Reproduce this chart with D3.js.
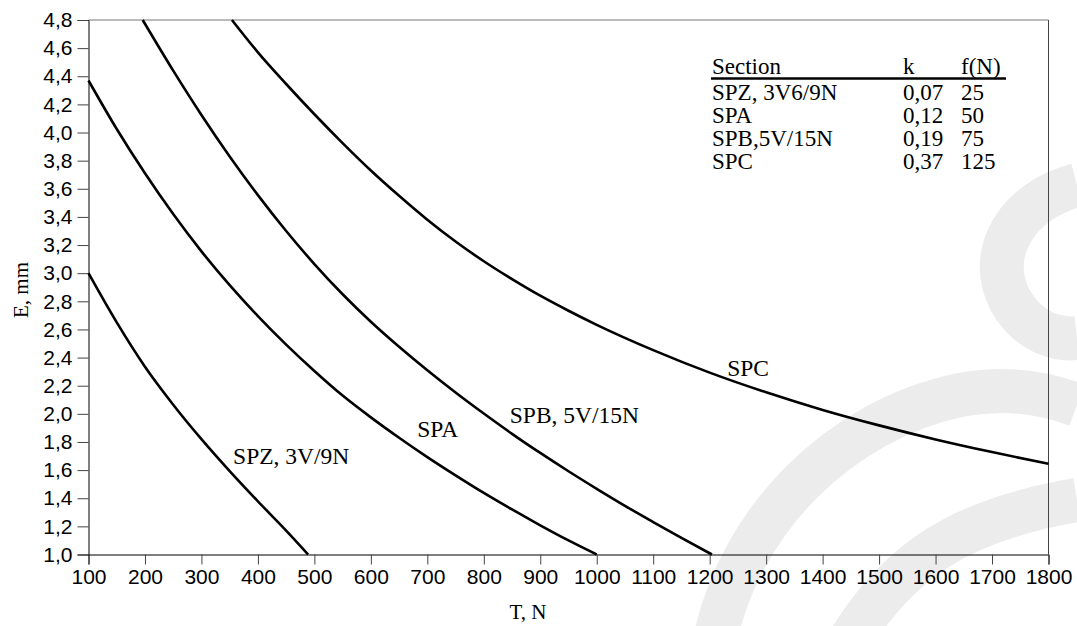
<!DOCTYPE html>
<html>
<head>
<meta charset="utf-8">
<script src="https://cdn.jsdelivr.net/npm/d3@7"></script>
<style>
  html, body { margin: 0; padding: 0; background: #fff; }
  svg { display: block; }
</style>
</head>
<body>
<svg id="chart" width="1077" height="626"></svg>
<script>
// ---- data ----
const xTicks = [100,200,300,400,500,600,700,800,900,1000,1100,1200,1300,1400,1500,1600,1700,1800];
const yTicks = [1.0,1.2,1.4,1.6,1.8,2.0,2.2,2.4,2.6,2.8,3.0,3.2,3.4,3.6,3.8,4.0,4.2,4.4,4.6,4.8];

const spzT = [100, 150, 200, 250, 300, 350, 400, 450, 489];
const spzE = [3.00, 2.65, 2.335, 2.065, 1.82, 1.593, 1.378, 1.17, 1.00];

const spaT = [100, 150, 200, 250, 300, 350, 400, 450, 500, 550, 600, 650, 700, 750, 800, 850, 900, 950, 1000];
const spaE = [4.37, 4.025, 3.71, 3.42, 3.155, 2.915, 2.695, 2.4925, 2.305, 2.13, 1.975, 1.83, 1.6925, 1.5625, 1.4375, 1.32, 1.2075, 1.10, 1.00];

const spbT = [196, 250, 300, 350, 400, 450, 500, 550, 600, 650, 700, 750, 800, 850, 900, 950, 1000, 1050, 1100, 1150, 1204];
const spbE = [4.80, 4.44, 4.125, 3.83, 3.555, 3.30, 3.065, 2.85, 2.655, 2.477, 2.31, 2.152, 2.002, 1.858, 1.722, 1.592, 1.467, 1.346, 1.231, 1.118, 1.00];

const spcT = [354, 400, 450, 500, 550, 600, 650, 700, 750, 800, 850, 900, 950, 1000, 1100, 1200, 1300, 1400, 1500, 1600, 1700, 1800];
const spcE = [4.80, 4.57, 4.345, 4.13, 3.925, 3.73, 3.55, 3.38, 3.225, 3.085, 2.958, 2.84, 2.733, 2.633, 2.453, 2.293, 2.153, 2.028, 1.918, 1.818, 1.728, 1.645];

const curveNames = ["SPZ, 3V/9N", "SPA", "SPB, 5V/15N", "SPC"];
const labelT = [356, 682, 846, 1231];   // left edge of each curve label, in N
const labelE = [1.643, 1.837, 1.933, 2.269]; // baseline of each curve label, in mm

const tableHead = ["Section", "k", "f(N)"];
const tableSection = ["SPZ, 3V6/9N", "SPA", "SPB,5V/15N", "SPC"];
const tableK = ["0,07", "0,12", "0,19", "0,37"];
const tableF = ["25", "50", "75", "125"];

// ---- layout ----
const svg = d3.select("#chart");
const L = 88.5, R = 1048.5, T = 20, B = 554.5;
const x = d3.scaleLinear().domain([100, 1800]).range([L, R]);
const y = d3.scaleLinear().domain([1.0, 4.8]).range([B, T]);

const sans = "'Liberation Sans', Arial, sans-serif";
const serif = "'Liberation Serif', 'Times New Roman', serif";

// watermark (light grey logo strokes behind the chart)
const wm = svg.append("g").attr("fill", "none").attr("stroke", "#ececec").attr("stroke-width", 44).attr("stroke-linecap", "butt");
wm.append("path").attr("d", "M 715 640 C 740 520, 840 420, 960 395 C 1010 385, 1050 395, 1077 405");
wm.append("path").attr("d", "M 1077 185 C 1020 200, 985 250, 1010 300 C 1030 335, 1060 340, 1077 338");
wm.append("path").attr("d", "M 850 640 C 900 560, 960 520, 1077 500");

const g = svg.append("g");

// frame: top & right
g.append("line").attr("x1", L).attr("x2", R).attr("y1", T).attr("y2", T).attr("stroke", "#777").attr("stroke-width", 1);
g.append("line").attr("x1", R).attr("x2", R).attr("y1", T).attr("y2", B).attr("stroke", "#444").attr("stroke-width", 1);

// axes
const xAxis = d3.axisBottom(x).tickValues(xTicks).tickSize(10).tickPadding(5).tickFormat(d3.format("d"));
const yAxis = d3.axisLeft(y).tickValues(yTicks).tickSize(11).tickPadding(5).tickFormat(d => d3.format(".1f")(d).replace(".", ","));

const gx = g.append("g").attr("transform", `translate(0,${B})`).call(xAxis);
const gy = g.append("g").attr("transform", `translate(${L},0)`).call(yAxis);
[gx, gy].forEach(a => {
  a.select(".domain").attr("stroke", "#000").attr("stroke-width", 1);
  a.selectAll(".tick line").attr("stroke", "#444");
  a.selectAll(".tick text").attr("fill", "#000").style("font-family", sans).style("font-size", "21px");
});

// curves
const line = d3.line().x(d => x(d[0])).y(d => y(d[1])).curve(d3.curveMonotoneX);
const series = [[spzT, spzE], [spaT, spaE], [spbT, spbE], [spcT, spcE]];
g.append("g").selectAll("path").data(series).join("path")
  .attr("d", s => line(s[0].map((t, i) => [t, s[1][i]])))
  .attr("fill", "none").attr("stroke", "#000").attr("stroke-width", 2.6);

// curve labels
g.append("g").selectAll("text").data(curveNames).join("text")
  .attr("x", (d, i) => x(labelT[i])).attr("y", (d, i) => y(labelE[i]))
  .text(d => d).style("font-family", serif).style("font-size", "23.5px").attr("fill", "#000");

// axis titles
g.append("text").attr("x", 528).attr("y", 619).attr("text-anchor", "middle")
  .style("font-family", serif).style("font-size", "21px").text("T, N");
g.append("text").attr("transform", "translate(28,290) rotate(-90)").attr("text-anchor", "middle")
  .style("font-family", serif).style("font-size", "21px").text("E, mm");

// table
const tg = g.append("g").style("font-family", serif).style("font-size", "23px").attr("fill", "#000");
const colX = [712, 903, 961];
tableHead.forEach((h, i) => tg.append("text").attr("x", colX[i]).attr("y", 74).text(h));
tg.append("line").attr("x1", 711).attr("x2", 1006).attr("y1", 78.5).attr("y2", 78.5).attr("stroke", "#000").attr("stroke-width", 2.5);
const rowY = [99.5, 122.8, 146, 169.3];
tableSection.forEach((s, i) => {
  tg.append("text").attr("x", colX[0]).attr("y", rowY[i]).text(s);
  tg.append("text").attr("x", colX[1]).attr("y", rowY[i]).text(tableK[i]);
  tg.append("text").attr("x", colX[2]).attr("y", rowY[i]).text(tableF[i]);
});
</script>
</body>
</html>
